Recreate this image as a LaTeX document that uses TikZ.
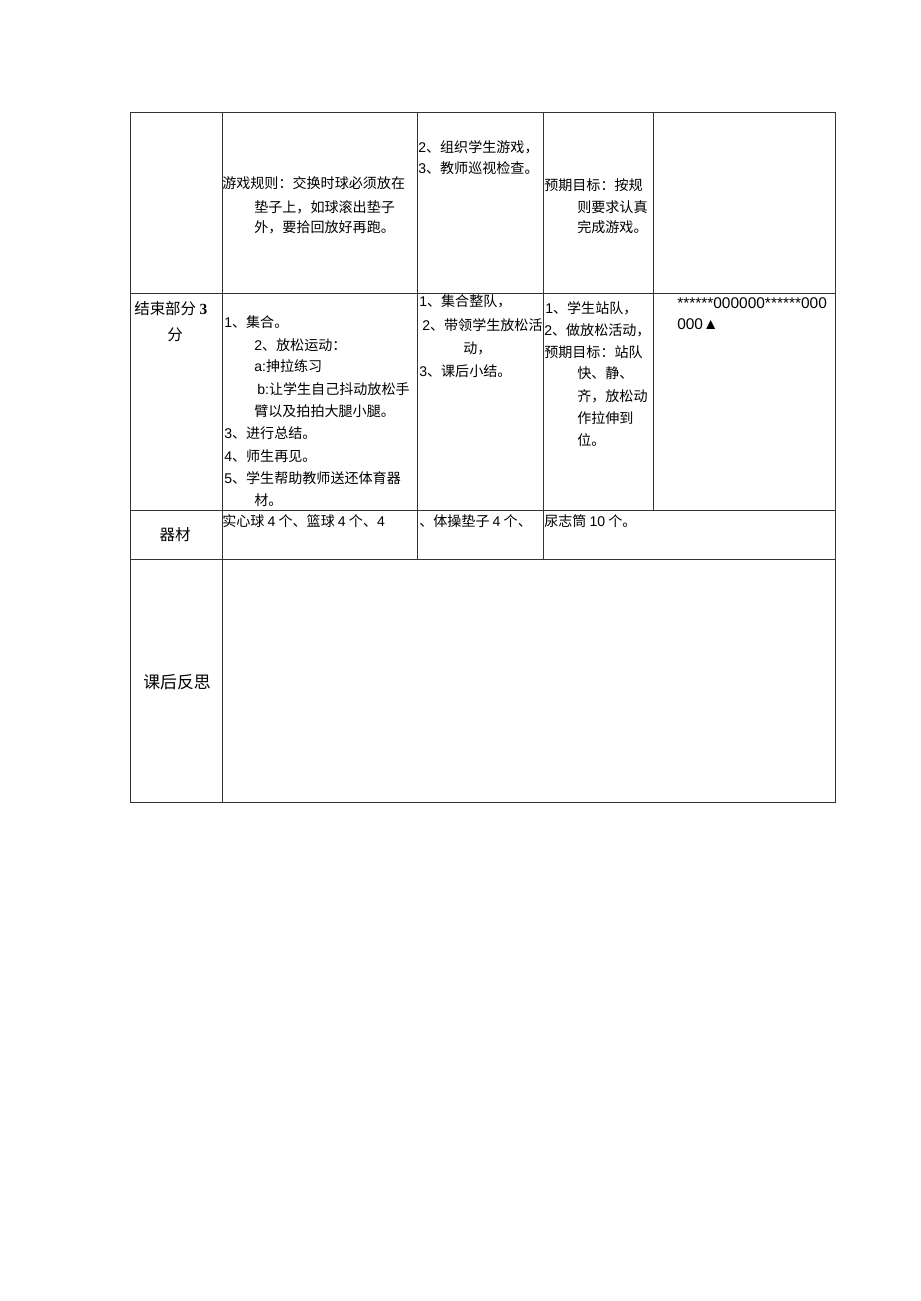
\documentclass[tikz,border=0pt]{standalone}
\usepackage{fontspec}
\setmainfont{Noto Sans CJK SC}
\newfontfamily\arl{Liberation Sans}
\newfontfamily\tnr{Liberation Serif}
\newcommand\dg[1]{{\arl #1}}

\tikzset{
  grid/.style={line width=0.6pt, black!80},
  txt/.style={anchor=base west, inner sep=0pt, font=\fontsize{10}{12}\selectfont},
  head/.style={anchor=base, inner sep=0pt, font=\fontsize{11}{13}\selectfont}
}

\begin{document}
\begin{tikzpicture}[x=0.025cm, y=-0.025cm]
   \useasboundingbox (0,0) rectangle (920,1301);

   % table rules
   \draw[grid] (130,112) rectangle (835,802);
   \draw[grid] (130,293) -- (835,293);
   \draw[grid] (130,510) -- (835,510);
   \draw[grid] (130,559) -- (835,559);
   \draw[grid] (222,112) -- (222,802);
   \draw[grid] (417,112) -- (417,559);
   \draw[grid] (543,112) -- (543,559);
   \draw[grid] (653,112) -- (653,510);

   % game row
   \node[txt] (rule1) at (222,188) {游戏规则：交换时球必须放在};
   \node[txt] (rule2) at (254,212) {垫子上，如球滚出垫子};
   \node[txt] (rule3) at (254,232) {外，要拾回放好再跑。};
   \node[txt] (org2) at (418,152) {\dg{2}、组织学生游戏，};
   \node[txt] (org3) at (418,173) {\dg{3}、教师巡视检查。};
   \node[txt] (aim1) at (544,190) {预期目标：按规};
   \node[txt] (aim2) at (577,212) {则要求认真};
   \node[txt] (aim3) at (577,232) {完成游戏。};

   % closing part
   \node[anchor=base west, inner sep=0pt, font=\fontsize{11}{13}\selectfont] (endpart) at (134,314) {结束部分 {\tnr\bfseries 3}};
   \node[head] (endmin) at (175,340) {分};

   \node[txt] (end1) at (224,327) {\dg{1}、集合。};
   \node[txt] (end2) at (254,350) {\dg{2}、放松运动：};
   \node[txt] (end2a) at (254,371) {\dg{a:}抻拉练习};
   \node[txt] (end2b) at (257,394) {\dg{b:}让学生自己抖动放松手};
   \node[txt] (end2c) at (254,416) {臂以及拍拍大腿小腿。};
   \node[txt] (end3) at (224,438) {\dg{3}、进行总结。};
   \node[txt] (end4) at (224,461) {\dg{4}、师生再见。};
   \node[txt] (end5) at (224,483) {\dg{5}、学生帮助教师送还体育器};
   \node[txt] (end5b) at (254,505) {材。};

   \node[txt] (tch1) at (419,306) {\dg{1}、集合整队，};
   \node[txt] (tch2) at (422,330) {\dg{2}、带领学生放松活};
   \node[txt] (tch2b) at (463,353) {动，};
   \node[txt] (tch3) at (419,376) {\dg{3}、课后小结。};

   \node[txt] (stu1) at (545,313) {\dg{1}、学生站队，};
   \node[txt] (stu2) at (544,335) {\dg{2}、做放松活动，};
   \node[txt] (stu3) at (544,357) {预期目标：站队};
   \node[txt] (stu4) at (577,378) {快、静、};
   \node[txt] (stu5) at (577,401) {齐，放松动};
   \node[txt] (stu6) at (577,423) {作拉伸到};
   \node[txt] (stu7) at (577,445) {位。};

   \node[txt, font=\arl\fontsize{11}{13}\selectfont] (form1) at (677,308) {******000000******000};
   \node[txt, font=\arl\fontsize{11}{13}\selectfont] (form2) at (677,329) {000▲};

   % equipment
   \node[head] (equip) at (175,540) {器材};
   \node[txt] (eq1) at (222,526) {实心球 \dg{4} 个、篮球 \dg{4} 个、\dg{4}};
   \node[txt] (eq2) at (419,526) {、体操垫子 \dg{4} 个、};
   \node[txt] (eq3) at (544,526) {尿志筒 \dg{10} 个。};

   % reflection
   \node[head, font=\fontsize{12}{14}\selectfont] (refl) at (177,688) {课后反思};
\end{tikzpicture}
\end{document}
